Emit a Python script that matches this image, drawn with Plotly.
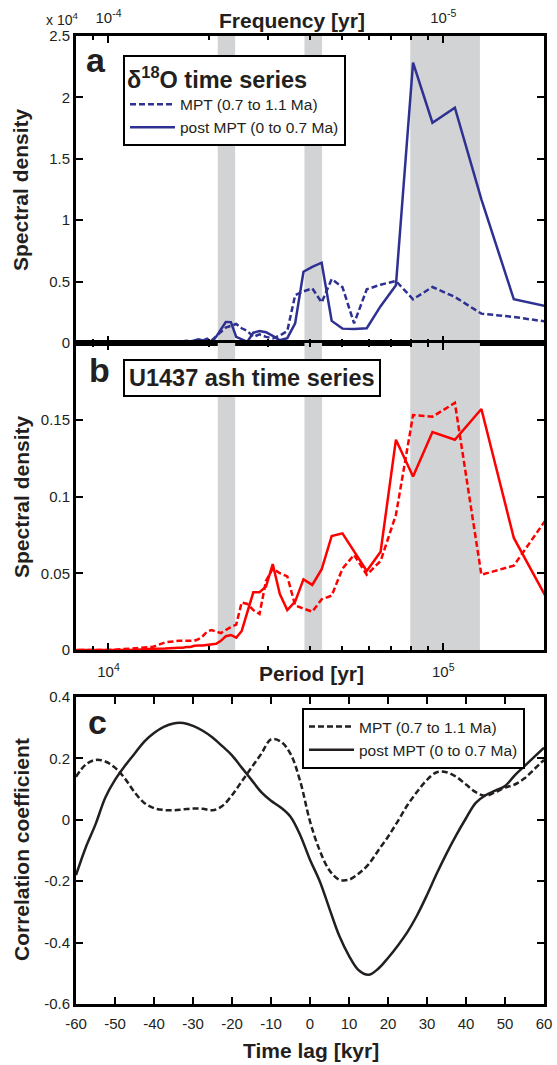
import plotly.graph_objects as go

# ---------------- data ----------------
period_yr = [216667, 162500, 130000, 108333, 92857, 81250, 72222, 65000, 59091, 54167,
             50000, 46429, 43333, 40625, 38235, 36111, 34211, 32500, 30952, 29545,
             28261, 27083, 26000, 25000, 24074, 23214, 22414, 21667, 20968, 20313,
             19697, 19118, 18571, 18056, 17568, 17105, 16667, 16250, 14773, 13542,
             11818, 10000, 7927]

# delta18O spectral density (x 10^4)
d18o_mpt = [0.163, 0.212, 0.239, 0.375, 0.456, 0.356, 0.505, 0.475, 0.437, 0.16,
            0.455, 0.52, 0.33, 0.445, 0.42, 0.39, 0.098, 0.06, 0.038, 0.05,
            0.07, 0.05, 0.098, 0.12, 0.155, 0.14, 0.125, 0.09, 0.057, 0.02,
            0.015, 0.01, 0.015, 0.01, 0.012, 0.008, 0.01, 0.006, 0.005, 0.004,
            0.003, 0.002, 0.002]
d18o_post = [0.283, 0.356, 1.17, 1.916, 1.794, 2.283, 0.47, 0.30, 0.12, 0.115,
             0.117, 0.18, 0.654, 0.62, 0.58, 0.16, 0.04, 0.022, 0.058, 0.088,
             0.098, 0.084, 0.01, 0.03, 0.05, 0.17, 0.171, 0.11, 0.05, 0.005,
             0.035, 0.02, 0.03, 0.02, 0.012, 0.018, 0.01, 0.008, 0.01, 0.005,
             0.008, 0.004, 0.003]

# U1437 ash spectral density
ash_mpt = [0.094, 0.055, 0.049, 0.161, 0.152, 0.153, 0.088, 0.058, 0.049, 0.062,
           0.053, 0.0354, 0.033, 0.025, 0.027, 0.029, 0.048, 0.05, 0.053, 0.045,
           0.0235, 0.026, 0.03, 0.031, 0.0165, 0.015, 0.013, 0.011, 0.012, 0.013,
           0.012, 0.009, 0.007, 0.006, 0.006, 0.006, 0.006, 0.006, 0.005, 0.002,
           0.001, 0.0, 0.0]
ash_post = [0.023, 0.073, 0.157, 0.137, 0.142, 0.113, 0.137, 0.064, 0.0515, 0.064,
            0.076, 0.0743, 0.0526, 0.0424, 0.046, 0.0315, 0.026, 0.0365, 0.056, 0.0413,
            0.0376, 0.0376, 0.024, 0.0124, 0.008, 0.0098, 0.009, 0.006, 0.004, 0.0035,
            0.003, 0.003, 0.003, 0.0028, 0.002, 0.002, 0.0015, 0.0015, 0.001, 0.0008,
            0.0, 0.0, 0.0]

# orbital bands (period, yr)
band_lo = [21200, 38500, 79700]
band_hi = [23900, 43450, 128700]

# cross-correlation
lag_kyr = [-60, -57.5, -55, -52.5, -50, -47.5, -45, -42.5, -40, -37.5, -35, -32.5, -30,
           -27.5, -25, -22.5, -20, -17.5, -15, -12.5, -10, -7.5, -5, -2.5, 0, 2.5, 5,
           7.5, 10, 12.5, 15, 17.5, 20, 22.5, 25, 27.5, 30, 32.5, 35, 37.5, 40, 42.5,
           45, 47.5, 50, 52.5, 55, 57.5, 60]
corr_mpt = [0.14, 0.18, 0.195, 0.19, 0.17, 0.135, 0.09, 0.055, 0.038, 0.032, 0.031, 0.034,
            0.037, 0.036, 0.031, 0.045, 0.08, 0.125, 0.17, 0.215, 0.262, 0.255, 0.215,
            0.125, -0.005, -0.1, -0.165, -0.195, -0.195, -0.175, -0.145, -0.1, -0.055,
            -0.005, 0.048, 0.092, 0.13, 0.155, 0.155, 0.14, 0.115, 0.09, 0.078, 0.09,
            0.105, 0.115, 0.135, 0.165, 0.195]
corr_post = [-0.18, -0.09, -0.015, 0.072, 0.13, 0.175, 0.215, 0.255, 0.283, 0.303, 0.314,
             0.315, 0.306, 0.29, 0.268, 0.24, 0.21, 0.17, 0.13, 0.09, 0.062, 0.04, 0.01,
             -0.05, -0.13, -0.2, -0.29, -0.378, -0.443, -0.49, -0.505, -0.485, -0.45,
             -0.41, -0.365, -0.31, -0.245, -0.175, -0.11, -0.05, 0.005, 0.055, 0.08,
             0.095, 0.11, 0.145, 0.175, 0.205, 0.235]

# ---------------- style ----------------
W, H = 557, 1065
ML, MR, MT, MB = 76, 13, 36, 61
PW, PH = W - ML - MR, H - MT - MB
FONT = "Liberation Sans, Arial, sans-serif"
TXT = "#231F20"
BLUE = "#2E3192"
RED = "#FF0000"
DARK = "#231F20"
GREY = "#D1D3D4"
DASH = "6px,3px"


def px(x):
    return (x - ML) / PW


def py(y):
    return 1 - (y - MT) / PH


dom_a = [py(343), 1.0]
dom_b = [py(650), py(343)]
dom_c = [0.0, py(697)]

fig = go.Figure()

# bands
for lo, hi in zip(band_lo, band_hi):
    for ya, ytop in (("y", 2.5), ("y2", 0.2)):
        fig.add_trace(go.Scatter(x=[lo, lo, hi, hi, lo], y=[0, ytop, ytop, 0, 0],
                                 xaxis="x" if ya == "y" else "x2", yaxis=ya,
                                 fill="toself", fillcolor=GREY, mode="lines",
                                 line=dict(width=0, color=GREY), showlegend=False,
                                 hoverinfo="skip"))

# panel a
fig.add_trace(go.Scatter(x=period_yr, y=d18o_mpt, xaxis="x", yaxis="y", mode="lines",
                         line=dict(color=BLUE, width=2.5, dash=DASH),
                         name="MPT (0.7 to 1.1 Ma)", legend="legend"))
fig.add_trace(go.Scatter(x=period_yr, y=d18o_post, xaxis="x", yaxis="y", mode="lines",
                         line=dict(color=BLUE, width=2.5),
                         name="post MPT (0 to 0.7 Ma)", legend="legend"))
# panel b
fig.add_trace(go.Scatter(x=period_yr, y=ash_mpt, xaxis="x2", yaxis="y2", mode="lines",
                         line=dict(color=RED, width=2.5, dash=DASH),
                         name="MPT (0.7 to 1.1 Ma)", showlegend=False))
fig.add_trace(go.Scatter(x=period_yr, y=ash_post, xaxis="x2", yaxis="y2", mode="lines",
                         line=dict(color=RED, width=2.5),
                         name="post MPT (0 to 0.7 Ma)", showlegend=False))
# panel c
fig.add_trace(go.Scatter(x=lag_kyr, y=corr_mpt, xaxis="x3", yaxis="y3", mode="lines",
                         line=dict(color=DARK, width=2.5, dash=DASH, shape="spline"),
                         name="MPT (0.7 to 1.1 Ma)", legend="legend2"))
fig.add_trace(go.Scatter(x=lag_kyr, y=corr_post, xaxis="x3", yaxis="y3", mode="lines",
                         line=dict(color=DARK, width=2.5, shape="spline"),
                         name="post MPT (0 to 0.7 Ma)", legend="legend2"))

minor_vals = [8000, 9000] + [k * 10000 for k in range(2, 10)] + [200000]
axcommon = dict(showline=True, linewidth=3, linecolor="black", mirror="allticks",
                ticks="inside", ticklen=7, tickwidth=2, tickcolor="black",
                showgrid=False, zeroline=False, automargin=False,
                tickfont=dict(family=FONT, size=15, color=TXT))
logx = dict(type="log", range=[3.903, 5.301],
            minor=dict(tickmode="array", tickvals=minor_vals, ticks="inside",
                       ticklen=4, tickwidth=1.5, tickcolor="black", showgrid=False))

fig.update_layout(
    template="none",
    width=W, height=H, margin=dict(l=ML, r=MR, t=MT, b=MB, autoexpand=False),
    plot_bgcolor="white", paper_bgcolor="white",
    font=dict(family=FONT, color=TXT),
    hovermode=False,
    xaxis=dict(**axcommon, **logx, domain=[0, 1], anchor="y", side="top",
               tickvals=[1e4, 1e5], ticktext=["10<sup>-4</sup>", "10<sup>-5</sup>"],
               ticklabelstandoff=4),
    yaxis=dict(**axcommon, domain=dom_a, anchor="x", range=[0, 2.5],
               tickvals=[0, 0.5, 1, 1.5, 2, 2.5],
               ticktext=["0", "0.5", "1", "1.5", "2", "2.5"]),
    xaxis2=dict(**axcommon, **logx, domain=[0, 1], anchor="y2", side="bottom",
                tickvals=[1e4, 1e5], ticktext=["10<sup>4</sup>", "10<sup>5</sup>"],
                ticklabelstandoff=6),
    yaxis2=dict(**axcommon, domain=dom_b, anchor="x2", range=[0, 0.2],
                tickvals=[0, 0.05, 0.1, 0.15],
                ticktext=["0", "0.05", "0.1", "0.15"]),
    xaxis3=dict(**axcommon, domain=[0, 1], anchor="y3", range=[-60, 60],
                tickvals=list(range(-60, 61, 10)),
                ticktext=[str(v) if v >= 0 else "-" + str(-v) for v in range(-60, 61, 10)],
                ticklabelstandoff=4),
    yaxis3=dict(**axcommon, domain=dom_c, anchor="x3", range=[-0.6, 0.4],
                tickvals=[-0.6, -0.4, -0.2, 0, 0.2, 0.4],
                ticktext=["-0.6", "-0.4", "-0.2", "0", "0.2", "0.4"]),
    legend=dict(x=px(123), y=py(55), xanchor="left", yanchor="top",
                bgcolor="white", bordercolor="black", borderwidth=2,
                font=dict(family=FONT, size=15.5, color=TXT),
                title=dict(text="<b>δ<sup>18</sup>O time series</b>", side="top",
                           font=dict(family=FONT, size=23.5, color=TXT)),
                itemwidth=45, tracegroupgap=0, traceorder="normal"),
    legend2=dict(x=px(302), y=py(708), xanchor="left", yanchor="top",
                 bgcolor="white", bordercolor="black", borderwidth=2,
                 font=dict(family=FONT, size=15.5, color=TXT),
                 itemwidth=45, tracegroupgap=0, traceorder="normal"),
)

ann = []


def add_text(text, x, y, size, bold=False, angle=0, xanchor="center", **kw):
    t = f"<b>{text}</b>" if bold else text
    ann.append(dict(text=t, x=px(x), y=py(y), xref="paper", yref="paper",
                    showarrow=False, textangle=angle, xanchor=xanchor, yanchor="middle",
                    font=dict(family=FONT, size=size, color=TXT), **kw))


add_text("Frequency [yr]", 292, 20, 21, bold=True)
add_text("x 10<sup>4</sup>", 62, 19, 14)
add_text("Period [yr]", 311, 673, 21, bold=True)
add_text("Time lag [kyr]", 311, 1050, 21, bold=True)
add_text("Spectral density", 21, 190, 21, bold=True, angle=-90)
add_text("Spectral density", 21, 497, 21, bold=True, angle=-90)
add_text("Correlation coefficient", 21, 850, 21, bold=True, angle=-90)
add_text("a", 96, 60, 34, bold=True)
add_text("b", 99, 370, 34, bold=True)
add_text("c", 97, 722, 34, bold=True)
ann.append(dict(text="<b>U1437 ash time series</b>", x=px(123), y=py(359), xref="paper",
                yref="paper", showarrow=False, xanchor="left", yanchor="top",
                font=dict(family=FONT, size=23.5, color=TXT), bordercolor="black",
                borderwidth=2, borderpad=4, bgcolor="white"))
fig.update_layout(annotations=ann)

fig.write_html("out.html", config={"displayModeBar": False},
               post_script="document.body.style.margin='0';document.body.style.padding='0';")
